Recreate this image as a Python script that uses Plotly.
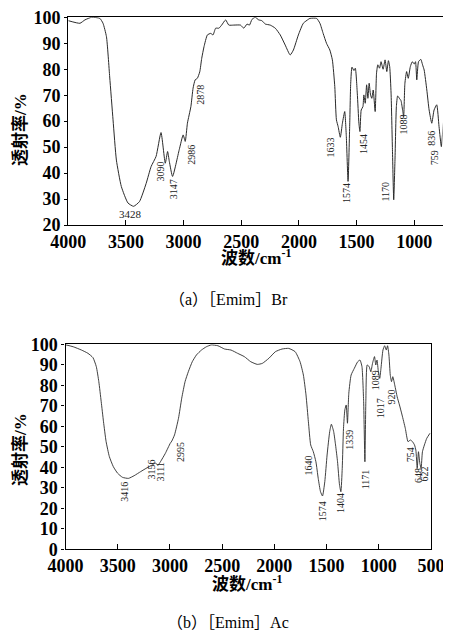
import plotly.graph_objects as go

# ---------------- data: (a) [Emim]Br ----------------
wn_a = [4000, 3899, 3856, 3798, 3727, 3699, 3669, 3641, 3612, 3583, 3540, 3483, 3434, 3383,
        3325, 3282, 3239, 3196, 3159, 3139, 3124, 3096, 3038, 3004, 2986, 2967, 2937, 2918,
        2900, 2881, 2860, 2843, 2823, 2794, 2765, 2745, 2722, 2694, 2670, 2636, 2608, 2565,
        2507, 2478, 2450, 2429, 2407, 2378, 2349, 2321, 2292, 2249, 2205, 2162, 2119, 2076,
        2048, 2005, 1962, 1919, 1904, 1847, 1818, 1790, 1761, 1732, 1710, 1689, 1675, 1660,
        1641, 1623, 1603, 1589, 1574, 1560, 1551, 1540, 1523, 1511, 1494, 1480, 1471, 1460,
        1445, 1437, 1425, 1413, 1402, 1391, 1379, 1368, 1356, 1339, 1327, 1316, 1301, 1288,
        1270, 1253, 1238, 1224, 1213, 1201, 1189, 1178, 1167, 1155, 1144, 1129, 1115, 1101,
        1092, 1081, 1066, 1052, 1034, 1017, 1000, 989, 978, 963, 943, 928, 914, 891, 871,
        848, 828, 805, 785, 765, 750, 737]
t_a = [98.7, 97.7, 99.0, 100.0, 99.6, 97.7, 92.5, 77.0, 60.5, 45.0, 34.8, 28.5, 27.2, 29.0,
       36.0, 42.5, 46.4, 55.6, 43.8, 48.3, 44.5, 38.7, 49.0, 54.7, 52.2, 59.2, 65.6, 72.7,
       75.9, 76.5, 79.0, 84.2, 88.7, 93.2, 93.8, 93.2, 95.8, 95.8, 97.0, 99.0, 97.0, 97.0,
       97.0, 95.8, 97.4, 97.0, 99.2, 100.0, 99.0, 98.7, 97.4, 97.0, 95.8, 93.2, 89.3, 85.5,
       87.4, 93.2, 97.7, 99.2, 99.6, 99.6, 97.7, 93.8, 90.0, 87.4, 83.6, 73.3, 60.5, 57.9,
       53.8, 59.2, 63.7, 54.0, 36.8, 57.9, 74.6, 80.8, 79.5, 80.4, 70.8, 59.2, 56.0, 64.3,
       65.6, 70.1, 66.9, 74.0, 68.8, 74.6, 70.1, 68.8, 72.0, 63.7, 78.5, 81.7, 80.4, 82.9,
       80.0, 83.6, 79.1, 83.3, 81.0, 70.8, 49.0, 29.7, 45.1, 65.6, 69.7, 68.8, 67.9, 64.3,
       61.8, 74.6, 79.1, 76.5, 81.0, 82.9, 82.0, 82.9, 75.9, 82.9, 83.8, 81.7, 79.7, 72.0,
       64.3, 59.2, 64.3, 66.3, 57.9, 50.2, 57.9, 63.7]

lab_a = ["3428", "3090", "3147", "2986", "2878", "1633", "1574", "1454", "1170", "1088", "836", "759"]
lab_a_x = [3460, 3196, 3087, 2929, 2851, 1727, 1589, 1445, 1253, 1092, 858, 822]
lab_a_y = [24.3, 40.6, 33.6, 47.0, 70.1, 50.0, 32.5, 51.2, 32.9, 58.6, 53.5, 46.0]
lab_a_ang = [0, -90, -90, -90, -90, -90, -90, -90, -90, -90, -90, -90]

# ---------------- data: (b) [Emim]Ac ----------------
wn_b = [3995, 3926, 3847, 3785, 3737, 3705, 3681, 3658, 3636, 3611, 3580, 3542, 3501, 3454,
        3397, 3343, 3280, 3218, 3171, 3139, 3114, 3091, 3044, 2997, 2982, 2956, 2918, 2887,
        2855, 2824, 2786, 2746, 2698, 2651, 2604, 2541, 2477, 2415, 2352, 2288, 2226, 2163,
        2115, 2052, 1990, 1926, 1863, 1801, 1754, 1722, 1697, 1674, 1652, 1627, 1602, 1580,
        1558, 1539, 1517, 1495, 1470, 1454, 1432, 1414, 1395, 1376, 1363, 1350, 1338, 1325,
        1312, 1300, 1287, 1265, 1234, 1202, 1180, 1161, 1145, 1133, 1124, 1111, 1092, 1076,
        1060, 1041, 1029, 1017, 1004, 991, 979, 960, 944, 928, 916, 903, 890, 878, 866, 847,
        824, 802, 777, 746, 720, 698, 677, 658, 645, 632, 620, 607, 595, 582, 563, 541, 510]
t_b = [99.7, 98.8, 97.2, 95.6, 93.5, 89.1, 81.8, 72.0, 62.2, 52.5, 45.2, 40.3, 37.1, 35.1,
       34.6, 35.9, 37.9, 39.8, 41.1, 42.0, 41.1, 42.7, 46.8, 51.7, 52.8, 55.8, 63.9, 73.7,
       81.8, 86.6, 91.5, 94.8, 97.2, 98.8, 99.7, 99.3, 97.7, 97.2, 95.6, 94.0, 91.5, 90.2,
       90.7, 93.2, 96.4, 97.7, 98.0, 96.4, 91.5, 85.0, 75.3, 62.2, 50.9, 47.6, 42.7, 34.6,
       28.1, 26.0, 33.0, 46.0, 57.4, 61.0, 57.4, 50.9, 42.7, 31.4, 28.1, 39.5, 59.0, 68.0,
       70.4, 61.5, 76.1, 85.0, 88.3, 91.5, 92.3, 89.1, 72.0, 42.7, 72.0, 89.9, 89.1, 86.6,
       90.7, 94.0, 89.9, 92.3, 86.6, 83.4, 88.3, 97.2, 99.3, 97.2, 99.3, 94.8, 85.0, 81.8,
       84.2, 80.1, 74.4, 70.4, 65.5, 59.0, 52.5, 53.3, 52.5, 50.9, 48.4, 39.5, 47.6, 42.0,
       39.5, 47.6, 50.9, 54.1, 56.6]

lab_b = ["3416", "3156", "3111", "2995", "1640", "1574", "1404", "1339", "1171", "1089",
         "1017", "920", "754", "648", "622"]
lab_b_x = [3429, 3176, 3091, 2893, 1674, 1539, 1360, 1287, 1133, 1028, 985, 878, 698, 613, 563]
lab_b_y = [28.1, 38.7, 37.7, 47.5, 41.1, 18.3, 22.7, 53.3, 34.1, 82.4, 69.0, 74.3, 46.0, 35.8, 36.7]

# ---------------- figure ----------------
# page is 451x637 with an 8px body margin: drawable area is x 8..443
W, H = 435, 637
OFF = 8
SERIF = "Liberation Serif, Noto Sans CJK SC"
LINE = "#2a2a2a"


def px(v):
    return (v - OFF) / W


def py(v):
    return 1 - (v - OFF) / H


fig = go.Figure()
fig.add_trace(go.Scatter(x=wn_a, y=t_a, mode="lines", xaxis="x", yaxis="y",
                         line=dict(color=LINE, width=1, shape="spline", smoothing=0.5),
                         hoverinfo="skip", showlegend=False))
fig.add_trace(go.Scatter(x=wn_b, y=t_b, mode="lines", xaxis="x2", yaxis="y2",
                         line=dict(color=LINE, width=0.9, shape="spline", smoothing=0.5),
                         hoverinfo="skip", showlegend=False))

tickfont = dict(family=SERIF, size=18, color="black", weight="bold")
common_x = dict(autorange=False, automargin=False, dtick=500, tick0=0, ticks="inside", ticklen=5,
                tickwidth=1.2, tickcolor="black", showline=True, linecolor="black", linewidth=1.2,
                mirror=True, showgrid=False, zeroline=False, tickfont=tickfont,
                ticklabeloverflow="allow")
common_y = dict(automargin=False, ticks="outside", ticklen=3, tickwidth=1.2, tickcolor="black",
                showline=True, linecolor="black", linewidth=1.2, mirror=True, showgrid=False,
                zeroline=False, dtick=10, tickfont=tickfont, ticklabeloverflow="allow")

fig.update_layout(
    template="none",
    width=W, height=H, margin=dict(l=0, r=0, t=0, b=0, pad=0),
    paper_bgcolor="white", plot_bgcolor="white",
    xaxis=dict(domain=[px(68.3), px(442.5)], range=[4000, 755], anchor="y", **common_x),
    yaxis=dict(domain=[py(225), py(17.3)], range=[20, 100], anchor="x", **common_y),
    xaxis2=dict(domain=[px(65.5), px(431)], range=[4000, 500], anchor="y2", **common_x),
    yaxis2=dict(domain=[py(549.3), py(344.3)], range=[0, 100], anchor="x2", **common_y),
)

labfont = dict(family="Liberation Serif", size=10, color="#222")
for txt, x, y, a in zip(lab_a, lab_a_x, lab_a_y, lab_a_ang):
    fig.add_annotation(x=x, y=y, xref="x", yref="y", text=txt, textangle=a, showarrow=False,
                       xanchor="center", yanchor="middle",
                       font=dict(family="Liberation Serif", size=11 if a == 0 else 10, color="#222"))
for txt, x, y in zip(lab_b, lab_b_x, lab_b_y):
    fig.add_annotation(x=x, y=y, xref="x2", yref="y2", text=txt, textangle=-90, showarrow=False,
                       xanchor="center", yanchor="middle", font=labfont)

# axis titles and captions
titlefont = dict(family=SERIF, size=17, color="black", weight="bold")
for yc in (130, 450):
    fig.add_annotation(x=px(20), y=py(yc), xref="paper", yref="paper",
                       text="透射率/%", textangle=-90, showarrow=False,
                       xanchor="center", yanchor="middle", font=titlefont)
for xc, yc in ((256, 257), (247, 583)):
    fig.add_annotation(x=px(xc), y=py(yc), xref="paper", yref="paper",
                       text="波数/cm<sup>-1</sup>", showarrow=False,
                       xanchor="center", yanchor="middle", font=titlefont)
capfont = dict(family=SERIF, size=16, color="black")
fig.add_annotation(x=px(228), y=py(299), xref="paper", yref="paper",
                   text="（a）［Emim］Br", showarrow=False, xanchor="center",
                   yanchor="middle", font=capfont)
fig.add_annotation(x=px(228), y=py(622), xref="paper", yref="paper",
                   text="（b）［Emim］Ac", showarrow=False, xanchor="center",
                   yanchor="middle", font=capfont)

fig.write_html("out.html")
